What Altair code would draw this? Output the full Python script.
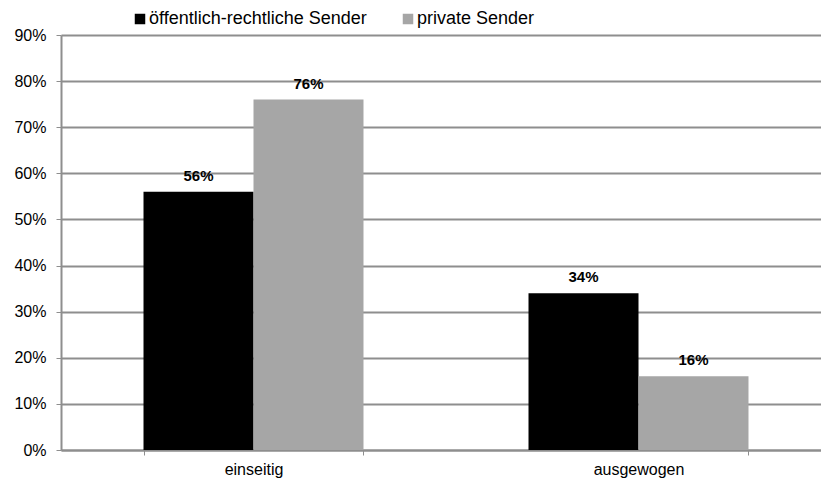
import altair as alt
import pandas as pd

# Bewertung der Berichterstattung nach Sendertyp
categories = ["einseitig", "ausgewogen"]
series = ["öffentlich-rechtliche Sender", "private Sender"]
oeffentlich = [0.56, 0.34]
privat = [0.76, 0.16]
colors = ["#000000", "#a6a6a6"]

rows = []
for cat, o, p in zip(categories, oeffentlich, privat):
    rows.append({"Kategorie": cat, "Sender": series[0], "Anteil": o})
    rows.append({"Kategorie": cat, "Sender": series[1], "Anteil": p})
df = pd.DataFrame(rows)

FONT = "Liberation Sans"
GRID = "#8e8e8e"

x = alt.X(
    "Kategorie:N",
    sort=categories,
    title=None,
    scale=alt.Scale(range=[0, 770], paddingInner=0.4286, paddingOuter=0.2143),
    axis=alt.Axis(
        labelAngle=0,
        labelFont=FONT,
        labelFontSize=16,
        labelColor="#000000",
        labelPadding=6,
        tickBand="extent",
        tickSize=5,
        tickColor=GRID,
        domainColor=GRID,
        domainWidth=2,
        grid=False,
    ),
)
xoff = alt.XOffset("Sender:N", sort=series)
y = alt.Y(
    "Anteil:Q",
    title=None,
    scale=alt.Scale(domain=[0, 0.9], nice=False),
    axis=alt.Axis(
        values=[i / 10 for i in range(10)],
        format=".0%",
        labelFont=FONT,
        labelFontSize=16,
        labelColor="#000000",
        labelPadding=10,
        tickSize=5,
        tickColor=GRID,
        domainColor=GRID,
        domainWidth=2,
        gridColor=GRID,
        gridWidth=2,
    ),
)

bars = alt.Chart(df).mark_bar().encode(
    x=x,
    xOffset=xoff,
    y=y,
    color=alt.Color(
        "Sender:N",
        sort=series,
        scale=alt.Scale(domain=series, range=colors),
        legend=alt.Legend(
            title=None,
            orient="none",
            direction="horizontal",
            legendX=70,
            legendY=-25,
            symbolType="square",
            symbolSize=110,
            symbolStrokeWidth=0,
            labelFont=FONT,
            labelFontSize=18,
            labelColor="#000000",
            labelOffset=0,
            labelLimit=500,
            columnPadding=32,
            padding=0,
        ),
    ),
)

labels = alt.Chart(df).mark_text(
    font=FONT, fontSize=15, fontWeight="bold", color="#000000",
    baseline="alphabetic", dy=-11,
).encode(
    x=x,
    xOffset=xoff,
    y=y,
    text=alt.Text("Anteil:Q", format=".0%"),
)

chart = (
    alt.layer(bars, labels)
    .properties(
        width=760,
        height=415,
        autosize=alt.AutoSizeParams(type="none"),
        padding={"left": 61, "top": 35, "right": 0, "bottom": 28},
    )
    .configure_view(stroke=None)
)

chart.save("out.html", embed_options={"renderer": "svg", "actions": False})
